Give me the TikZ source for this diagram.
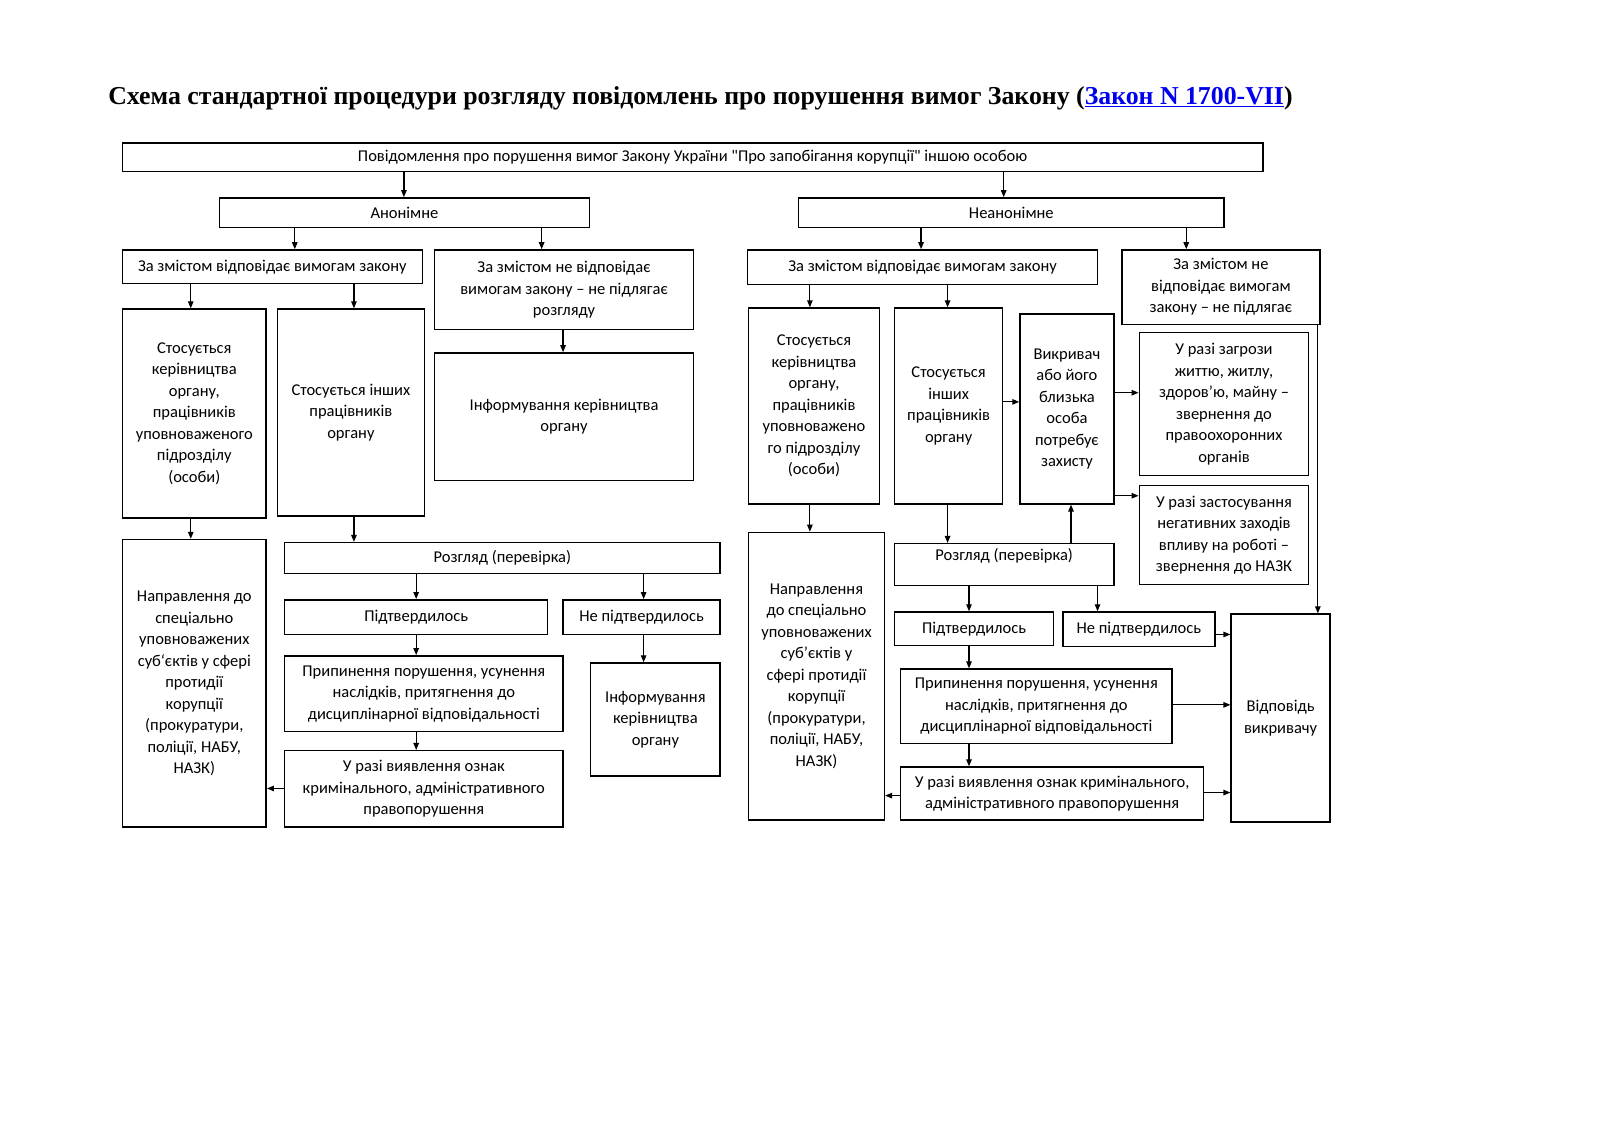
\documentclass[tikz,border=0pt]{standalone}
\usepackage{fontspec}
\setmainfont{Carlito}
\newfontfamily\plainfont{Carlito}
\newfontfamily\titlefont{Liberation Serif}
\usetikzlibrary{arrows.meta,calc}
\definecolor{linkblue}{RGB}{0,0,238}
\newcommand\qq{{\plainfont\symbol{34}}}
\newcommand\bx[6]{\node[box, minimum width={(#4-#2)*1.02pt}, minimum height={(#5-#3)*1.02pt}] (#1) at ({(#2+#4)/2},{(#3+#5)/2}) {#6};}
\newcommand\vdn[3]{\coordinate (tx) at (#3,0); \draw[arr] (#1.south -| tx) -- (#2.north -| tx);}
\newcommand\vup[3]{\coordinate (tx) at (#3,0); \draw[arr] (#1.north -| tx) -- (#2.south -| tx);}
\newcommand\hrt[3]{\coordinate (ty) at (0,#3); \draw[arr] (#1.east |- ty) -- (#2.west |- ty);}
\newcommand\hlf[3]{\coordinate (ty) at (0,#3); \draw[arr] (#1.west |- ty) -- (#2.east |- ty);}
\begin{document}
\begin{tikzpicture}[x=1.02pt,y=-1.02pt,
  box/.style={draw, line width=1.5pt, inner sep=0pt, align=center, font=\fontsize{16.5}{21.5}\selectfont},
  arr/.style={line width=1.2pt, -{Triangle[length=7pt,width=5.5pt]}}]
\useasboundingbox (0,0) rectangle (1568.63,1108.82);
\node[anchor=base west, inner sep=0pt, font=\titlefont\bfseries\fontsize{25.8}{30}\selectfont] (title) at (106,102)
  {Схема стандартної процедури розгляду повідомлень про порушення вимог Закону (\textcolor{linkblue}{\underline{Закон N 1700-VII}})};
% top
\bx{top}{120}{140}{1238}{168}{Повідомлення про порушення вимог Закону України \qq Про запобігання корупції\qq{} іншою особою}
\bx{anon}{215}{194}{578}{223}{Анонімне}
\bx{nonanon}{783}{194}{1200}{223}{Неанонімне}
% left branch
\bx{lyes}{120}{245}{414}{278}{За змістом відповідає вимогам закону}
\bx{lno}{426}{245}{680}{323}{За змістом не відповідає\\вимогам закону – не підлягає\\розгляду}
\bx{linfo}{426}{346}{680}{471}{Інформування керівництва\\органу}
\bx{lker}{120}{303}{261}{508}{Стосується\\керівництва\\органу,\\працівників\\уповноваженого\\підрозділу\\(особи)}
\bx{loth}{272}{303}{416}{506}{Стосується інших\\працівників\\органу}
\bx{lnapr}{120}{529}{261}{811}{Направлення до\\спеціально\\уповноважених\\суб‘єктів у сфері\\протидії\\корупції\\(прокуратури,\\поліції, НАБУ,\\НАЗК)}
\bx{lrozg}{279}{532}{706}{562}{Розгляд (перевірка)}
\bx{lpidt}{279}{588}{537}{622}{Підтвердилось}
\bx{lnepidt}{552}{588}{706}{622}{Не підтвердилось}
\bx{lprip}{279}{643}{552}{717}{Припинення порушення, усунення\\наслідків, притягнення до\\дисциплінарної відповідальності}
\bx{lvyyav}{279}{736}{552}{811}{У разі виявлення ознак\\кримінального, адміністративного\\правопорушення}
\bx{linfo2}{579}{650}{706}{761}{Інформування\\керівництва\\органу}
% right branch
\bx{ryes}{733}{245}{1076}{279}{За змістом відповідає вимогам закону}
\bx{rno}{1100}{245}{1294}{318}{За змістом не\\відповідає вимогам\\закону – не підлягає}
\bx{rker}{734}{302}{862}{494}{Стосується\\керівництва\\органу,\\працівників\\уповноважено\\го підрозділу\\(особи)}
\bx{roth}{877}{302}{983}{494}{Стосується\\інших\\працівників\\органу}
\bx{rvykr}{1000}{308}{1092}{494}{Викривач\\або його\\близька\\особа\\потребує\\захисту}
\bx{rzagr}{1117}{326}{1283}{466}{У разі загрози\\життю, житлу,\\здоров'ю, майну –\\звернення до\\правоохоронних\\органів}
\bx{rzast}{1117}{476}{1283}{573}{У разі застосування\\негативних заходів\\впливу на роботі –\\звернення до НАЗК}
\bx{rnapr}{734}{522}{867}{804}{Направлення\\до спеціально\\уповноважених\\суб'єктів у\\сфері протидії\\корупції\\(прокуратури,\\поліції, НАБУ,\\НАЗК)}
\bx{rrozg}{877}{533}{1092}{574}{\raisebox{9pt}[\height][\depth]{Розгляд (перевірка)}}
\bx{rpidt}{877}{600}{1033}{633}{Підтвердилось}
\bx{rnepidt}{1042}{600}{1191}{634}{Не підтвердилось}
\bx{rprip}{883}{656}{1149}{729}{Припинення порушення, усунення\\наслідків, притягнення до\\дисциплінарної відповідальності}
\bx{rvyyav}{883}{752}{1180}{804}{У разі виявлення ознак кримінального,\\адміністративного правопорушення}
\bx{rvidp}{1207}{602}{1304}{806}{Відповідь\\викривачу}
% arrows left
\vdn{top}{anon}{396}
\vdn{top}{nonanon}{984}
\vdn{anon}{lyes}{289}
\vdn{anon}{lno}{531}
\vdn{lno}{linfo}{552}
\vdn{lyes}{lker}{187}
\vdn{lyes}{loth}{347}
\vdn{lker}{lnapr}{187}
\vdn{loth}{lrozg}{347}
\vdn{lrozg}{lpidt}{408}
\vdn{lrozg}{lnepidt}{631}
\vdn{lpidt}{lprip}{408}
\vdn{lprip}{lvyyav}{408}
\vdn{lnepidt}{linfo2}{631}
\hlf{lvyyav}{lnapr}{773}
% arrows right
\vdn{nonanon}{ryes}{903}
\vdn{nonanon}{rno}{1163}
\vdn{ryes}{rker}{794}
\vdn{ryes}{roth}{929}
\hrt{roth}{rvykr}{394}
\hrt{rvykr}{rzagr}{385}
\hrt{rvykr}{rzast}{486}
\vdn{rker}{rnapr}{794}
\vdn{roth}{rrozg}{929}
\vup{rrozg}{rvykr}{1050}
\vdn{rrozg}{rpidt}{950}
\vdn{rrozg}{rnepidt}{1076}
\vdn{rpidt}{rprip}{950}
\vdn{rprip}{rvyyav}{950}
\hlf{rvyyav}{rnapr}{780}
\hrt{rnepidt}{rvidp}{622}
\hrt{rprip}{rvidp}{691}
\hrt{rvyyav}{rvidp}{777}
\vdn{rno}{rvidp}{1292}
\end{tikzpicture}
\end{document}
